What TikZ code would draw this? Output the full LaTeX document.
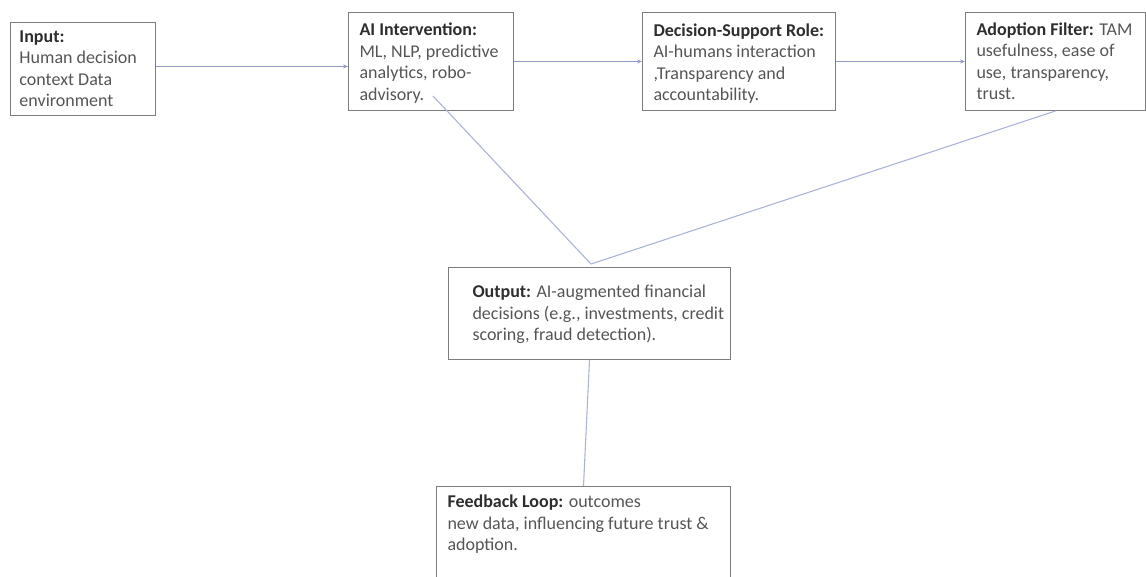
\documentclass[tikz,border=0pt]{standalone}
\usepackage{fontspec}
\setmainfont{Carlito}
\usetikzlibrary{arrows.meta,calc}
\definecolor{boxline}{RGB}{125,125,125}
\definecolor{headc}{RGB}{45,45,45}
\definecolor{bodyc}{RGB}{85,85,85}
\definecolor{conn}{RGB}{145,153,198}
\definecolor{connl}{RGB}{172,180,214}
\newcommand{\bxt}[5]{\parbox[c][#2pt][t]{#1pt}{\leftskip=#3pt\rightskip=-60pt plus 1fil\parindent=0pt\rule{0pt}{#4pt}#5}}
\newcommand{\hd}[1]{\textbf{\color{headc}#1}}
\begin{document}
\begin{tikzpicture}[x=1pt,y=-1pt,
  box/.style={draw=boxline, line width=1pt, inner sep=0pt, anchor=north west,
              font=\fontsize{18}{21.5}\selectfont, text=bodyc},
  arr/.style={draw=conn, line width=1pt, -{Stealth[length=5pt,width=4pt]}},
  ln/.style={draw=connl, line width=1.1pt}]
\useasboundingbox (0,0) rectangle (1146,577);
\clip (0,0) rectangle (1146,577);

\node[box] (in) at (10,22) {\bxt{145}{93}{9}{20}{\hd{Input:}\\Human decision\\context Data\\environment}};
\node[box] (ai) at (348,12) {\bxt{165}{98}{11}{23.5}{\hd{AI Intervention:}\\ML, NLP, predictive\\analytics, robo-\\advisory.}};
\node[box] (dec) at (642,12) {\bxt{193}{98}{11}{24}{\hd{Decision-Support Role:}\\AI-humans interaction\\,Transparency and\\accountability.}};
\node[box] (ad) at (965,12) {\bxt{180}{98}{11}{23}{\hd{Adoption Filter:} TAM\\usefulness, ease of\\use, transparency,\\trust.}};
\node[box] (out) at (448,267) {\bxt{282}{92}{24}{30}{\hd{Output:} AI-augmented financial\\decisions (e.g., investments, credit\\scoring, fraud detection).}};
\node[box] (fb) at (436,486) {\bxt{294}{110}{11}{21}{\hd{Feedback Loop:} outcomes\\new data, influencing future trust \&\\adoption.}};

\coordinate (inA) at ($(in.east)+(0,-2.5)$);
\draw[arr] (inA) -- (inA -| ai.west);
\draw[arr] (ai.east) -- (dec.west);
\draw[arr] (dec.east) -- (ad.west);

\coordinate (meet) at (591,264);
\coordinate (aiS) at (433,96);
\draw[ln] (aiS) -- (meet);
\draw[ln] (ad.south) -- (meet);
\draw[ln] (out.south) -- (fb.north);
\end{tikzpicture}
\end{document}
